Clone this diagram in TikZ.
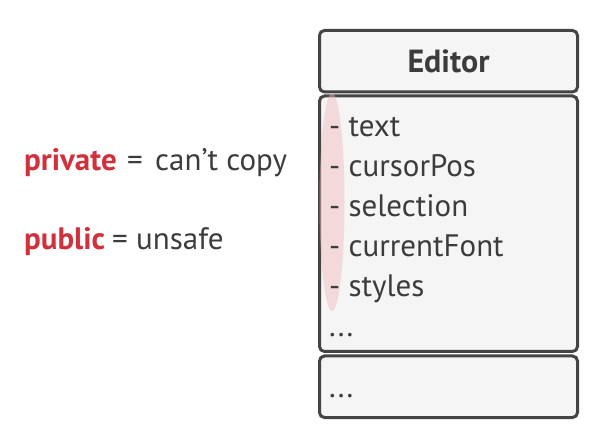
\documentclass[tikz,border=0pt]{standalone}
\usepackage{fontspec}
\setmainfont{PT Sans}
\begin{document}
\begin{tikzpicture}[x=1pt,y=-1pt,
  umlbox/.style={draw=boxline, line width=3pt, fill=boxfill, rounded corners=5pt},
  attr/.style={anchor=base west, text=txt, font=\fontsize{31}{31}\selectfont, inner sep=0pt},
  lbl/.style={anchor=base west, font=\fontsize{31}{31}\selectfont, inner sep=0pt}]
\definecolor{boxline}{HTML}{444444}
\definecolor{boxfill}{HTML}{F5F5F5}
\definecolor{txt}{HTML}{3C3C3C}
\definecolor{red1}{HTML}{D0313C}
\definecolor{pink1}{HTML}{F2B8B8}
\useasboundingbox (0,0) rectangle (592,430);
\draw[umlbox] (319.5,30.5) rectangle (577.5,92) node[midway, text=txt, font=\fontsize{32}{32}\selectfont\bfseries] (title) {Editor};
\draw[umlbox] (319.5,96) rectangle (577.5,351.5);
\draw[umlbox] (319.5,356) rectangle (577.5,417.5);
\fill[pink1, opacity=0.45] (332,202) ellipse (12.5 and 109);
\node[attr] (a1) at (329,137) {- text};
\node[attr] (a2) at (329,177) {- cursorPos};
\node[attr] (a3) at (329,217) {- selection};
\node[attr] (a4) at (329,257) {- currentFont};
\node[attr] (a5) at (329,297) {- styles};
\node[attr] (a6) at (329,337) {...};
\node[attr] (m1) at (329,397) {...};
\node[lbl, text=red1, font=\fontsize{31}{31}\selectfont\bfseries] (priv) at (24,171) {private};
\node[lbl, text=txt] (eq1) at (127,171) {=};
\node[lbl, text=txt] (cc) at (155,171) {can’t copy};
\node[lbl, text=red1, font=\fontsize{31}{31}\selectfont\bfseries] (pub) at (24,250) {public};
\node[lbl, text=txt] (eq2) at (112,250) {=};
\node[lbl, text=txt] (uns) at (136,250) {unsafe};
\end{tikzpicture}
\end{document}
